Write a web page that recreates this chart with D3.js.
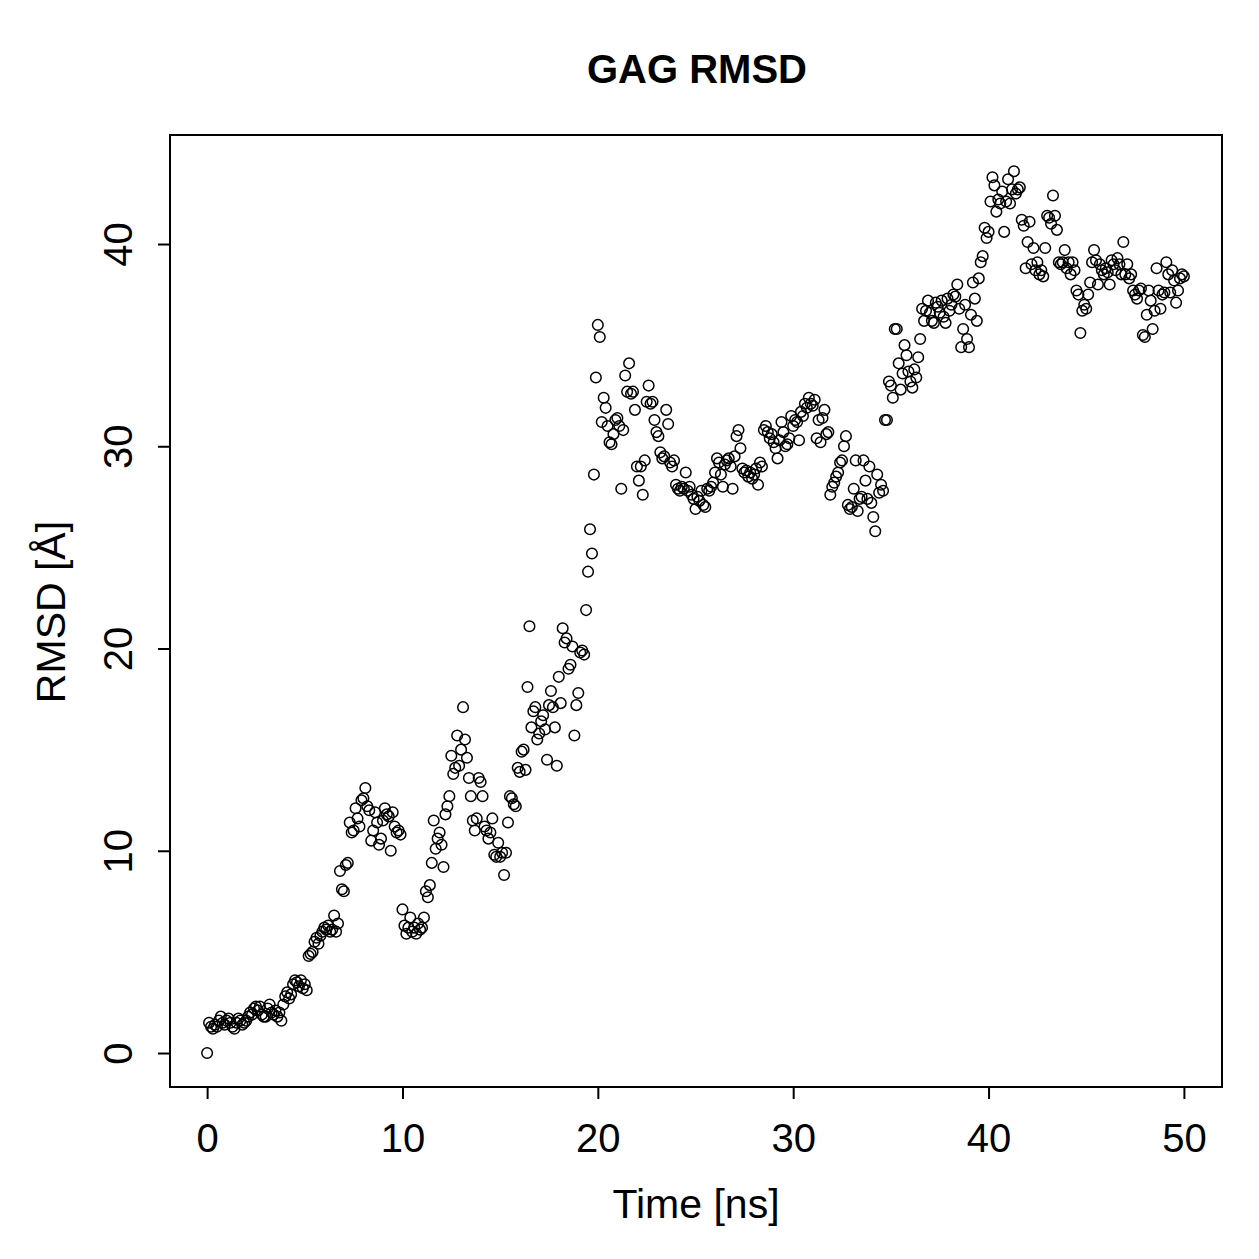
<!DOCTYPE html>
<html>
<head>
<meta charset="utf-8">
<script src="https://cdn.jsdelivr.net/npm/d3@7"></script>
<style>
  body { margin: 0; background: #fff; }
  text { font-family: "Liberation Sans", Arial, Helvetica, sans-serif; }
</style>
</head>
<body>
<figure id="chart" style="margin:0"></figure>
<script>
// RMSD samples every 0.1 ns, 0..50 ns
const timeStep = 0.1;
const rmsd = [
  0, 1.5, 1.3, 1.2, 1.4, 1.3, 1.6, 1.8, 1.5, 1.4,
  1.6, 1.7, 1.5, 1.3, 1.2, 1.5, 1.7, 1.6, 1.4, 1.5,
  1.6, 1.8, 2.0, 1.9, 2.2, 2.3, 2.1, 2.3, 1.9, 1.8,
  1.8, 2.2, 2.4, 2.0, 1.9, 2.1, 1.8, 2.0, 1.6, 2.4,
  2.8, 3.0, 2.7, 2.9, 3.4, 3.6, 3.5, 3.3, 3.6, 3.2,
  3.4, 3.1, 4.8, 4.9, 5.0, 5.5, 5.7, 5.4, 5.8, 6.0,
  6.2, 6.1, 6.3, 6.0, 6.1, 6.8, 6.0, 6.4, 9.0, 8.1,
  8.0, 9.3, 9.4, 11.4, 10.9, 11.0, 12.1, 11.6, 11.2, 12.5,
  12.6, 13.1, 12.2, 12.0, 10.5, 11.0, 11.9, 11.4, 10.3, 10.6,
  11.5, 12.1, 11.8, 11.7, 10.0, 11.9, 11.2, 10.9, 11.0, 10.8,
  7.1, 6.3, 5.9, 6.2, 6.7, 6.0, 6.2, 5.9, 6.4, 6.1,
  6.2, 6.7, 8.0, 7.7, 8.3, 9.4, 11.5, 10.1, 10.6, 10.9,
  10.3, 9.2, 11.8, 12.2, 12.7, 14.7, 13.8, 14.1, 15.7, 14.2,
  15.0, 17.1, 15.5, 14.6, 13.6, 12.7, 11.5, 11.0, 11.6, 13.6,
  13.4, 12.7, 11.2, 11.0, 10.6, 10.9, 11.6, 9.8, 9.7, 10.4,
  9.7, 9.9, 8.8, 9.9, 11.4, 12.7, 12.6, 12.3, 12.2, 14.1,
  13.9, 14.9, 15.0, 14.0, 18.1, 21.1, 16.1, 16.9, 17.1, 15.5,
  15.8, 16.4, 16.7, 16.0, 14.5, 17.2, 17.9, 17.1, 16.1, 14.2,
  18.6, 17.3, 21.0, 20.3, 20.5, 19.0, 19.2, 20.1, 15.7, 17.2,
  17.8, 19.8, 19.9, 19.7, 21.9, 23.8, 25.9, 24.7, 28.6, 33.4,
  36.0, 35.4, 31.2, 32.4, 31.9, 31.0, 30.2, 30.1, 30.6, 31.3,
  31.4, 31.0, 27.9, 30.8, 33.5, 32.7, 34.1, 32.6, 32.7, 31.8,
  29.0, 28.3, 29.0, 27.6, 29.3, 32.2, 33.0, 32.1, 32.2, 31.3,
  30.7, 30.5, 29.7, 29.4, 29.5, 31.8, 31.1, 29.2, 29.0, 29.3,
  28.1, 27.9, 27.8, 28.0, 27.9, 28.7, 27.8, 28.0, 27.6, 27.4,
  26.9, 27.5, 27.3, 27.8, 27.1, 27.0, 27.9, 27.8, 28.0, 28.2,
  28.7, 29.4, 29.2, 28.6, 28.0, 29.1, 29.3, 29.4, 29.0, 27.9,
  29.5, 30.5, 30.8, 29.9, 28.9, 28.7, 28.8, 28.5, 28.7, 28.4,
  28.6, 28.9, 28.1, 29.2, 29.0, 30.8, 31.0, 30.7, 30.4, 30.6,
  30.2, 29.9, 29.4, 30.3, 31.2, 30.7, 30.0, 30.1, 30.4, 31.5,
  31.0, 31.3, 31.2, 30.3, 31.7, 31.5, 32.1, 31.9, 32.4, 32.1,
  32.0, 32.3, 30.4, 31.3, 30.2, 31.4, 31.8, 30.6, 30.7, 27.6,
  28.0, 28.2, 28.5, 28.7, 29.2, 29.3, 30.0, 30.5, 27.1, 26.9,
  27.0, 27.9, 29.3, 26.8, 27.4, 27.5, 29.3, 28.3, 27.4, 29.0,
  27.2, 26.5, 25.8, 28.6, 27.7, 28.1, 27.8, 31.3, 31.3, 33.2,
  33.0, 32.4, 35.8, 35.8, 34.1, 32.8, 33.6, 35.0, 34.5, 33.7,
  33.2, 32.9, 33.8, 33.4, 34.4, 35.3, 36.8, 36.2, 36.7, 37.2,
  36.6, 36.2, 36.1, 37.1, 36.9, 36.6, 37.2, 36.4, 36.1, 37.3,
  36.7, 37.0, 37.5, 37.4, 38.0, 36.8, 34.9, 35.8, 37.0, 35.3,
  34.9, 36.5, 38.1, 37.3, 36.2, 38.3, 39.1, 39.4, 40.8, 40.3,
  40.6, 42.1, 43.3, 42.9, 41.6, 42.2, 42.0, 42.6, 40.6, 42.1,
  43.2, 42.0, 42.7, 43.6, 42.5, 42.7, 42.8, 41.2, 40.9, 38.8,
  40.1, 41.1, 39.0, 39.8, 38.7, 39.1, 38.5, 38.7, 38.4, 39.8,
  41.4, 41.3, 41.0, 42.4, 41.4, 40.7, 39.1, 39.0, 39.1, 39.7,
  38.8, 39.1, 38.5, 39.1, 38.7, 37.7, 37.5, 35.6, 36.7, 37.0,
  36.8, 37.5, 38.1, 39.1, 39.7, 39.2, 38.0, 39.0, 38.7, 38.5,
  38.8, 38.6, 38.0, 39.2, 39.0, 38.7, 39.3, 39.0, 38.5, 40.1,
  38.5, 39.0, 38.3, 38.5, 37.7, 37.5, 37.3, 37.7, 37.8, 35.5,
  35.4, 36.5, 37.7, 37.2, 35.8, 36.7, 38.8, 37.7, 36.8, 37.5,
  37.6, 39.1, 38.5, 37.6, 38.7, 38.2, 37.1, 37.7, 38.3, 38.5,
  38.4
];
const xTicks = [0, 10, 20, 30, 40, 50];
const yTicks = [0, 10, 20, 30, 40];

const width = 1259, height = 1259;
const box = { left: 170, right: 1222, top: 135, bottom: 1087 };
const font = "'Liberation Sans', Arial, Helvetica, sans-serif";

const data = rmsd.map((v, i) => ({ t: i * timeStep, v: v }));

const svg = d3.select("#chart")
  .append("svg")
  .attr("width", width)
  .attr("height", height);

// R style 4% padding on each side
const x = d3.scaleLinear().domain([-1.9, 51.95]).range([box.left, box.right]);
const y = d3.scaleLinear().domain([-1.68, 45.39]).range([box.bottom, box.top]);

// Points
svg.append("g")
  .selectAll("circle")
  .data(data)
  .enter()
  .append("circle")
  .attr("cx", d => x(d.t))
  .attr("cy", d => y(d.v))
  .attr("r", 5.3)
  .attr("fill", "none")
  .attr("stroke", "#000")
  .attr("stroke-width", 1.5);

// Frame
svg.append("rect")
  .attr("x", box.left)
  .attr("y", box.top)
  .attr("width", box.right - box.left)
  .attr("height", box.bottom - box.top)
  .attr("fill", "none")
  .attr("stroke", "#000")
  .attr("stroke-width", 2);

// X axis
const xAxis = svg.append("g")
  .attr("transform", "translate(0," + box.bottom + ")")
  .call(d3.axisBottom(x).tickValues(xTicks).tickSize(12).tickFormat(d3.format("d")));
xAxis.select(".domain").attr("d", "M" + x(0) + ",0H" + x(50)).attr("stroke-width", 2);
xAxis.selectAll(".tick line").attr("stroke-width", 2);
xAxis.selectAll("text")
  .attr("font-size", 40).attr("fill", "#000")
  .attr("y", 65).attr("dy", null)
  .style("font-family", font);

// Y axis
const yAxis = svg.append("g")
  .attr("transform", "translate(" + box.left + ",0)")
  .call(d3.axisLeft(y).tickValues(yTicks).tickSize(12).tickFormat(d3.format("d")));
yAxis.select(".domain").attr("d", "M0," + y(0) + "V" + y(40)).attr("stroke-width", 2);
yAxis.selectAll(".tick line").attr("stroke-width", 2);
yAxis.selectAll("text")
  .attr("font-size", 40).attr("fill", "#000")
  .attr("x", null).attr("dy", null)
  .attr("text-anchor", "middle")
  .attr("transform", "translate(-38,0) rotate(-90)")
  .attr("y", 0)
  .style("font-family", font);

// Titles
svg.append("text")
  .attr("x", 697).attr("y", 83)
  .attr("text-anchor", "middle")
  .attr("font-size", 40).attr("font-weight", "bold")
  .text("GAG RMSD");

svg.append("text")
  .attr("x", 696).attr("y", 1218)
  .attr("text-anchor", "middle")
  .attr("font-size", 41)
  .text("Time [ns]");

svg.append("text")
  .attr("transform", "translate(65,612) rotate(-90)")
  .attr("text-anchor", "middle")
  .attr("font-size", 41)
  .text("RMSD [Å]");
</script>
</body>
</html>
